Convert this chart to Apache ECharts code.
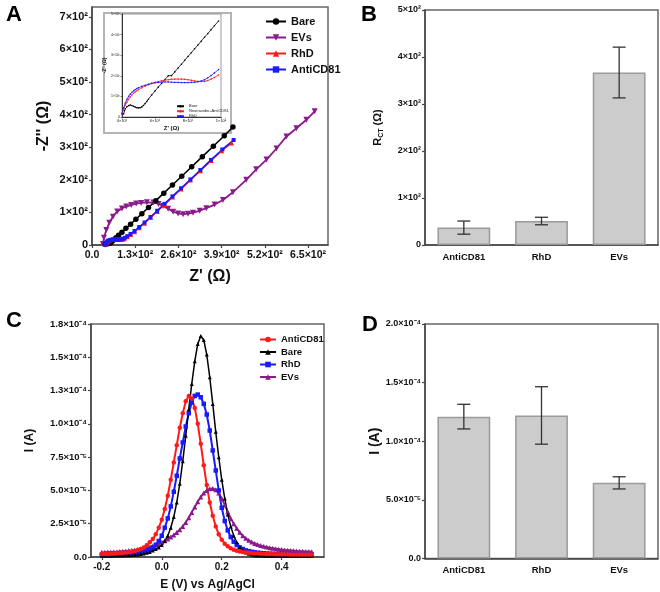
<!DOCTYPE html>
<html>
<head>
<meta charset="utf-8">
<script src="https://cdn.jsdelivr.net/npm/echarts@6/dist/echarts.min.js"></script>
<style>
  html, body { margin: 0; padding: 0; background: #fff; }
  #main { width: 660px; height: 592px; }
</style>
</head>
<body>
<div id="main"></div>
<script>
    // ---------- A : Nyquist plot (Z' / -Z'', ohm) ----------
    const aBareX = [40, 41, 42, 44, 46, 48, 50, 53, 56, 60, 65, 72, 80, 90, 102, 116, 132, 150, 170, 192, 216, 242, 270, 300, 332, 365, 398, 424];
    const aBareY = [1.5, 3, 4, 5.5, 5.6, 4.8, 4.4, 5, 6.5, 10.5, 15, 22, 30, 39, 51, 64, 79, 96, 115, 136, 159, 184, 211, 240, 271, 303, 335, 362];
    const aEvX = [33, 36, 43, 52, 63, 76, 90, 103, 118, 133, 148, 165, 185, 200, 214, 229, 244, 259, 274, 289, 304, 324, 344, 369, 394, 424, 464, 494, 525, 555, 585, 615, 645, 670];
    const aEvY = [3, 22, 46, 68, 87, 103, 112, 118, 123, 127, 129, 131, 130, 126, 120, 111, 102, 97, 94.5, 96, 99, 105, 113, 124, 138, 162, 200, 232, 262, 296, 333, 358, 384, 410];
    const aRhdX = [40, 42, 44, 46, 48, 50, 54, 58, 62, 66, 70, 74, 78, 82, 86, 90, 94, 98, 106, 116, 128, 142, 158, 176, 196, 218, 242, 268, 296, 326, 358, 390, 420];
    const aRhdY = [2, 5, 8, 10.5, 12.5, 14, 15.5, 16.5, 17.3, 17.8, 18, 17.8, 17.5, 17, 17, 17.5, 18.5, 20.5, 25, 32, 41, 53, 67, 84, 103, 124, 147, 172, 199, 228, 259, 289, 313];
    const aCd81X = [40, 42, 44, 46, 48, 50, 54, 58, 62, 66, 70, 75, 80, 86, 92, 98, 106, 116, 128, 142, 158, 176, 196, 218, 242, 268, 296, 326, 358, 392, 426];
    const aCd81Y = [1.5, 5, 8.5, 11, 12.5, 13.5, 15, 16, 16.5, 16.8, 16.8, 16.6, 16.5, 17, 18.5, 22, 27, 34, 43, 55, 69, 86, 105, 126, 149, 174, 201, 230, 261, 293, 322];

    // inset of A (zoom on the 40-100 ohm region)
    const inBareX = [41, 41.5, 42, 43, 44, 45, 46, 47, 48, 49, 50, 51, 52, 53, 54, 55, 56, 58, 60, 62, 64, 66, 68, 70, 72, 74, 76, 78, 80, 82, 84, 86, 88, 90, 92, 94, 96, 98.5];
    const inBareY = [1.5, 3, 4, 5, 5.6, 5.8, 5.6, 5.2, 4.8, 4.5, 4.4, 4.5, 4.9, 5.6, 6.5, 7.5, 8.6, 10.7, 12.6, 14.5, 16.3, 18.2, 20, 20.1, 21.9, 23.8, 25.6, 27.5, 29.4, 31.2, 33.1, 34.9, 36.8, 38.7, 40.5, 42.4, 44.3, 46.6];
    const inX = [40, 41, 42, 43, 44, 45, 46, 47, 48, 49, 50, 52, 54, 56, 58, 60, 62, 64, 66, 68, 70, 72, 74, 76, 78, 80, 82, 84, 86, 88, 90, 92, 94, 96, 98.5];
    const inNeutrY = [2, 4, 5.8, 7.3, 8.6, 9.7, 10.7, 11.5, 12.2, 12.8, 13.3, 14.2, 15, 15.7, 16.3, 16.8, 17.2, 17.6, 17.9, 18.1, 18.3, 18.4, 18.4, 18.4, 18.3, 18.1, 17.8, 17.5, 17.3, 17.2, 17.3, 17.7, 18.4, 19.2, 20.4];
    const inRhdY = [1.5, 4.5, 6.8, 8.6, 10, 11.1, 12, 12.7, 13.3, 13.8, 14.2, 14.9, 15.4, 15.9, 16.3, 16.6, 16.8, 16.9, 17, 17, 16.9, 16.8, 16.8, 16.7, 16.7, 16.7, 16.8, 16.9, 17.1, 17.5, 18.1, 19, 20.1, 21.4, 23];

    // ---------- B : charge transfer resistance ----------
    const barCats = ['AntiCD81', 'RhD', 'EVs'];
    const rctMean = [37, 51, 367];
    const rctErr = [14, 8, 54];

    // ---------- C : DPV, E (V) and I (units of 1e-5 A) ----------
    const cE = [-0.2, -0.19, -0.18, -0.17, -0.16, -0.15, -0.14, -0.13, -0.12, -0.11,
        -0.1, -0.09, -0.08, -0.07, -0.06, -0.05, -0.04, -0.03, -0.02, -0.01,
        0, 0.01, 0.02, 0.03, 0.04, 0.05, 0.06, 0.07, 0.08, 0.09,
        0.1, 0.11, 0.12, 0.13, 0.14, 0.15, 0.16, 0.17, 0.18, 0.19,
        0.2, 0.21, 0.22, 0.23, 0.24, 0.25, 0.26, 0.27, 0.28, 0.29,
        0.3, 0.31, 0.32, 0.33, 0.34, 0.35, 0.36, 0.37, 0.38, 0.39,
        0.4, 0.41, 0.42, 0.43, 0.44, 0.45, 0.46, 0.47, 0.48, 0.49, 0.5];
    const cCd81 = [0.22, 0.23, 0.23, 0.24, 0.25, 0.26, 0.28, 0.3, 0.33, 0.36,
        0.4, 0.45, 0.52, 0.6, 0.72, 0.88, 1.1, 1.35, 1.7, 2.2,
        2.8, 3.6, 4.6, 5.8, 7.1, 8.4, 9.7, 10.8, 11.7, 12.1,
        11.9, 11.2, 10.0, 8.5, 6.9, 5.4, 4.1, 3.1, 2.3, 1.7,
        1.3, 1.0, 0.8, 0.65, 0.55, 0.47, 0.41, 0.37, 0.33, 0.31,
        0.29, 0.27, 0.26, 0.25, 0.24, 0.23, 0.22, 0.22, 0.21, 0.21,
        0.2, 0.2, 0.2, 0.19, 0.19, 0.19, 0.18, 0.18, 0.18, 0.18, 0.18];
    const cBare = [0.1, 0.1, 0.1, 0.1, 0.11, 0.11, 0.12, 0.12, 0.13, 0.14,
        0.15, 0.17, 0.19, 0.22, 0.26, 0.31, 0.38, 0.48, 0.6, 0.72,
        0.9, 1.2, 1.6, 2.2, 3.0, 4.1, 5.5, 7.2, 9.1, 11.1,
        13.0, 14.7, 16.0, 16.6, 16.3, 15.2, 13.5, 11.5, 9.4, 7.5,
        5.8, 4.4, 3.2, 2.3, 1.6, 1.1, 0.75, 0.5, 0.34, 0.24,
        0.18, 0.14, 0.12, 0.11, 0.1, 0.1, 0.1, 0.1, 0.1, 0.1,
        0.1, 0.1, 0.1, 0.1, 0.1, 0.1, 0.1, 0.1, 0.1, 0.1, 0.1];
    const cRhd = [0.17, 0.17, 0.18, 0.18, 0.19, 0.2, 0.21, 0.22, 0.23, 0.24,
        0.26, 0.28, 0.31, 0.35, 0.41, 0.48, 0.58, 0.72, 0.92, 1.2,
        1.6, 2.2, 2.9, 3.8, 4.9, 6.1, 7.4, 8.6, 9.8, 10.8,
        11.6, 12.1, 12.2, 12.0, 11.5, 10.7, 9.5, 8.0, 6.5, 5.0,
        3.7, 2.7, 2.0, 1.5, 1.15, 0.9, 0.72, 0.6, 0.5, 0.44,
        0.39, 0.35, 0.32, 0.3, 0.28, 0.26, 0.25, 0.24, 0.23, 0.22,
        0.22, 0.21, 0.21, 0.2, 0.2, 0.2, 0.19, 0.19, 0.19, 0.19, 0.19];
    const cEvs = [0.35, 0.36, 0.37, 0.38, 0.39, 0.4, 0.42, 0.44, 0.46, 0.48,
        0.5, 0.53, 0.56, 0.6, 0.64, 0.69, 0.75, 0.82, 0.9, 1.0,
        1.1, 1.22, 1.36, 1.5, 1.66, 1.84, 2.05, 2.3, 2.6, 2.95,
        3.35, 3.75, 4.15, 4.5, 4.8, 5.0, 5.12, 5.15, 5.05, 4.8,
        4.4, 3.9, 3.4, 2.9, 2.5, 2.15, 1.85, 1.6, 1.4, 1.25,
        1.12, 1.02, 0.93, 0.86, 0.8, 0.75, 0.7, 0.66, 0.62, 0.59,
        0.56, 0.53, 0.51, 0.49, 0.47, 0.45, 0.44, 0.43, 0.42, 0.41, 0.4];
    const cTickLabels = ['0.0', '2.5×10⁻⁵', '5.0×10⁻⁵', '7.5×10⁻⁵', '1.0×10⁻⁴', '1.3×10⁻⁴', '1.5×10⁻⁴', '1.8×10⁻⁴'];
    const cXTicks = [-0.2, 0, 0.2, 0.4];

    // ---------- D : peak current (A) ----------
    const iMean = [1.21e-4, 1.22e-4, 0.645e-4];
    const iErr = [0.105e-4, 0.245e-4, 0.052e-4];
    const dTickLabels = ['0.0', '5.0×10⁻⁵', '1.0×10⁻⁴', '1.5×10⁻⁴', '2.0×10⁻⁴'];

    const FONT = 'Liberation Sans, Arial, sans-serif';
    const AX = '#444';

    function pairs(xs, ys) {
        return xs.map(function (x, i) { return [x, ys[i]]; });
    }

    function valueAxis(extra) {
        const base = {
            type: 'value',
            axisLine: {show: true, onZero: false, lineStyle: {color: AX, width: 1.5}},
            axisTick: {show: true, length: 3, lineStyle: {color: AX, width: 1.2}},
            splitLine: {show: false},
            axisLabel: {fontFamily: FONT, fontWeight: 'bold', color: '#111', fontSize: 9, margin: 4},
            nameTextStyle: {fontFamily: FONT, fontWeight: 'bold', color: '#111'}
        };
        for (let k in extra) {
            if (typeof extra[k] === 'object' && base[k] && !Array.isArray(extra[k])) {
                base[k] = Object.assign({}, base[k], extra[k]);
            } else {
                base[k] = extra[k];
            }
        }
        return base;
    }

    function errorBars(gridIdx, means, errs, capHalf) {
        return {
            type: 'custom',
            xAxisIndex: gridIdx, yAxisIndex: gridIdx,
            z: 5,
            data: means.map(function (m, i) { return [i, m - errs[i], m + errs[i]]; }),
            renderItem: function (params, api) {
                const top = api.coord([api.value(0), api.value(2)]);
                const bot = api.coord([api.value(0), api.value(1)]);
                const st = {stroke: '#333', lineWidth: 1.3};
                return {
                    type: 'group', children: [
                        {type: 'line', shape: {x1: top[0], y1: top[1], x2: bot[0], y2: bot[1]}, style: st},
                        {type: 'line', shape: {x1: top[0] - capHalf, y1: top[1], x2: top[0] + capHalf, y2: top[1]}, style: st},
                        {type: 'line', shape: {x1: bot[0] - capHalf, y1: bot[1], x2: bot[0] + capHalf, y2: bot[1]}, style: st}
                    ]
                };
            }
        };
    }

    function lineSeries(name, gi, data, color, symbol, size, extra) {
        return Object.assign({
            name: name, type: 'line', xAxisIndex: gi, yAxisIndex: gi,
            data: data, symbol: symbol, symbolSize: size, showSymbol: true,
            lineStyle: {color: color, width: 1.6},
            itemStyle: {color: color},
            animation: false
        }, extra || {});
    }

    const gridBox = {show: true, borderColor: '#666', borderWidth: 1.5, backgroundColor: 'transparent'};
    const stripPrefix = function (n) { return n.split(':')[1]; };

    const myChart = echarts.init(document.getElementById('main'));
    myChart.setOption({
        animation: false,
        backgroundColor: '#fff',
        textStyle: {fontFamily: FONT},
        title: [
            {text: 'A', left: 1, top: -1, textStyle: {fontFamily: FONT, fontSize: 22, fontWeight: 'bold', color: '#000'}},
            {text: 'B', left: 356, top: -1, textStyle: {fontFamily: FONT, fontSize: 22, fontWeight: 'bold', color: '#000'}},
            {text: 'C', left: 1, top: 305, textStyle: {fontFamily: FONT, fontSize: 22, fontWeight: 'bold', color: '#000'}},
            {text: 'D', left: 357, top: 309, textStyle: {fontFamily: FONT, fontSize: 22, fontWeight: 'bold', color: '#000'}}
        ],
        graphic: [
            {type: 'rect', z: 3, shape: {x: 104, y: 13, width: 127, height: 120},
                style: {fill: '#fff', stroke: '#b4b4b4', lineWidth: 2}}
        ],
        legend: [
            {
                data: ['A:Bare', 'A:EVs', 'A:RhD', 'A:AntiCD81'], formatter: stripPrefix,
                orient: 'vertical', left: 260, top: 10, itemWidth: 20, itemHeight: 8, itemGap: 3,
                textStyle: {fontFamily: FONT, fontWeight: 'bold', fontSize: 11, color: '#111', lineHeight: 13}
            },
            {
                data: ['C:AntiCD81', 'C:Bare', 'C:RhD', 'C:EVs'], formatter: stripPrefix,
                orient: 'vertical', left: 254, top: 329, itemWidth: 16, itemHeight: 7, itemGap: 1.5,
                textStyle: {fontFamily: FONT, fontWeight: 'bold', fontSize: 9.5, color: '#111', lineHeight: 11}
            },
            {
                data: ['I:Bare', 'I:Neutravidin+AntiCD81', 'I:RhD'], formatter: stripPrefix, z: 12,
                orient: 'vertical', left: 171, top: 99, itemWidth: 7, itemHeight: 3, itemGap: 0.5,
                textStyle: {fontFamily: FONT, fontSize: 4, color: '#222', lineHeight: 4.5}
            }
        ],
        grid: [
            Object.assign({left: 92, top: 7, width: 236, height: 238}, gridBox),
            Object.assign({left: 122, top: 14, width: 99, height: 103, z: 10}, gridBox, {borderColor: '#999', borderWidth: 1}),
            Object.assign({left: 425, top: 10, width: 233, height: 235}, gridBox),
            Object.assign({left: 91, top: 324, width: 233, height: 234.5}, gridBox),
            Object.assign({left: 425, top: 324, width: 233, height: 234.5}, gridBox)
        ],
        xAxis: [
            valueAxis({
                gridIndex: 0, min: 0, max: 710, interval: 130,
                name: "Z' (Ω)", nameLocation: 'middle', nameGap: 24,
                nameTextStyle: {fontSize: 16},
                axisLabel: {fontSize: 10.5, margin: 5, formatter: function (v) { return v === 0 ? '0.0' : (v / 100).toFixed(1) + '×10²'; }}
            }),
            valueAxis({
                gridIndex: 1, min: 40, max: 100, interval: 20, z: 10,
                name: "Z' (Ω)", nameLocation: 'middle', nameGap: 8,
                nameTextStyle: {fontSize: 6},
                axisLine: {lineStyle: {color: '#333', width: 1}},
                axisTick: {length: 1.5, lineStyle: {width: 0.6}},
                axisLabel: {fontSize: 4, margin: 2, fontWeight: 'normal', formatter: function (v) { return v === 100 ? '1×10²' : (v / 10) + '×10¹'; }}
            }),
            {
                type: 'category', gridIndex: 2, data: barCats,
                axisLine: {show: true, lineStyle: {color: AX, width: 1.5}},
                axisTick: {show: false},
                axisLabel: {fontFamily: FONT, fontWeight: 'bold', color: '#111', fontSize: 9.5, margin: 7}
            },
            valueAxis({
                gridIndex: 3, min: -0.236, max: 0.541,
                name: 'E (V) vs Ag/AgCl', nameLocation: 'middle', nameGap: 22,
                nameTextStyle: {fontSize: 12},
                axisTick: {customValues: cXTicks},
                axisLabel: {fontSize: 10, margin: 5, customValues: cXTicks, formatter: function (v) { return v.toFixed(1); }}
            }),
            {
                type: 'category', gridIndex: 4, data: barCats,
                axisLine: {show: true, lineStyle: {color: AX, width: 1.5}},
                axisTick: {show: false},
                axisLabel: {fontFamily: FONT, fontWeight: 'bold', color: '#111', fontSize: 9.5, margin: 7}
            }
        ],
        yAxis: [
            valueAxis({
                gridIndex: 0, min: 0, max: 730, interval: 100,
                name: "-Z'' (Ω)", nameLocation: 'middle', nameGap: 40, nameRotate: 90,
                nameTextStyle: {fontSize: 16},
                axisLabel: {fontSize: 11, margin: 4, formatter: function (v) { return v === 0 ? '0' : (v / 100) + '×10²'; }}
            }),
            valueAxis({
                gridIndex: 1, min: 0, max: 50, interval: 10, z: 10,
                name: "-Z'' (Ω)", nameLocation: 'middle', nameGap: 15, nameRotate: 90,
                nameTextStyle: {fontSize: 5},
                axisLine: {lineStyle: {color: '#333', width: 1}},
                axisTick: {length: 1.5, lineStyle: {width: 0.6}},
                axisLabel: {fontSize: 3.5, margin: 2, fontWeight: 'normal', formatter: function (v) { return v === 0 ? '0' : (v / 10) + '×10¹'; }}
            }),
            valueAxis({
                gridIndex: 2, min: 0, max: 500, interval: 100,
                name: '{r|R}{s|CT}{r| (Ω)}', nameLocation: 'middle', nameGap: 40, nameRotate: 90,
                nameTextStyle: {
                    rich: {
                        r: {fontFamily: FONT, fontSize: 11, fontWeight: 'bold', color: '#111', lineHeight: 14},
                        s: {fontFamily: FONT, fontSize: 7, fontWeight: 'bold', color: '#111', lineHeight: 7, verticalAlign: 'bottom'}
                    }
                },
                axisLabel: {fontSize: 9, formatter: function (v) { return v === 0 ? '0' : (v / 100) + '×10²'; }}
            }),
            valueAxis({
                gridIndex: 3, min: 0, max: 17.5, interval: 2.5,
                name: 'I (A)', nameLocation: 'middle', nameGap: 55, nameRotate: 90,
                nameTextStyle: {fontSize: 12},
                axisLabel: {fontSize: 9.5, formatter: function (v) { return cTickLabels[Math.round(v / 2.5)]; }}
            }),
            valueAxis({
                gridIndex: 4, min: 0, max: 2e-4, interval: 5e-5,
                name: 'I (A)', nameLocation: 'middle', nameGap: 37, nameRotate: 90,
                nameTextStyle: {fontSize: 14},
                axisLabel: {fontSize: 9, formatter: function (v) { return dTickLabels[Math.round(v / 5e-5)]; }}
            })
        ],
        series: [
            // A main
            lineSeries('A:EVs', 0, pairs(aEvX, aEvY), '#8b1a8b', 'triangle', 6, {symbolRotate: 180, lineStyle: {color: '#8b1a8b', width: 1.8}}),
            lineSeries('A:Bare', 0, pairs(aBareX, aBareY), '#000', 'circle', 5.5),
            lineSeries('A:RhD', 0, pairs(aRhdX, aRhdY), '#ff1a1a', 'triangle', 5),
            lineSeries('A:AntiCD81', 0, pairs(aCd81X, aCd81Y), '#1a1aff', 'rect', 4),
            // A inset
            lineSeries('I:Bare', 1, pairs(inBareX, inBareY), '#000', 'circle', 1.6, {z: 11, lineStyle: {color: '#000', width: 0.8}}),
            lineSeries('I:Neutravidin+AntiCD81', 1, pairs(inX, inNeutrY), '#ff2020', 'circle', 1.6, {z: 11, lineStyle: {color: '#ff2020', width: 0.8}}),
            lineSeries('I:RhD', 1, pairs(inX, inRhdY), '#2020ff', 'circle', 1.6, {z: 11, lineStyle: {color: '#2020ff', width: 0.8}}),
            // B
            {
                type: 'bar', xAxisIndex: 2, yAxisIndex: 2, data: rctMean, barWidth: '68%',
                itemStyle: {color: '#cccccc', borderColor: '#9a9a9a', borderWidth: 1.5}
            },
            errorBars(2, rctMean, rctErr, 6.5),
            // C
            lineSeries('C:EVs', 3, pairs(cE, cEvs), '#8b1a8b', 'triangle', 5, {lineStyle: {color: '#8b1a8b', width: 1.8}}),
            lineSeries('C:RhD', 3, pairs(cE, cRhd), '#1a1aff', 'rect', 4.5, {lineStyle: {color: '#1a1aff', width: 2}}),
            lineSeries('C:Bare', 3, pairs(cE, cBare), '#000', 'triangle', 4, {lineStyle: {color: '#000', width: 1.5}}),
            lineSeries('C:AntiCD81', 3, pairs(cE, cCd81), '#ff1a1a', 'circle', 4.5, {lineStyle: {color: '#ff1a1a', width: 2}}),
            // D
            {
                type: 'bar', xAxisIndex: 4, yAxisIndex: 4, data: iMean, barWidth: '68%',
                itemStyle: {color: '#cccccc', borderColor: '#9a9a9a', borderWidth: 1.5}
            },
            errorBars(4, iMean, iErr, 6.5)
        ]
    });
</script>
</body>
</html>
